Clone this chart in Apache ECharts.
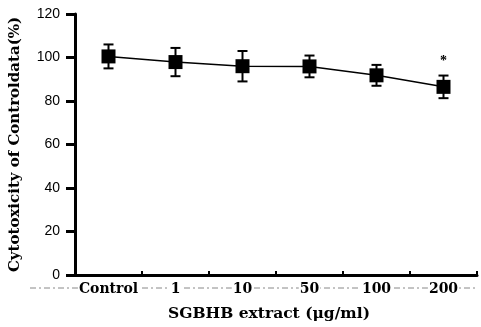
<!DOCTYPE html>
<html><head><meta charset="utf-8">
<script src="https://cdn.jsdelivr.net/npm/echarts@6/dist/echarts.min.js"></script>
<style>html,body{margin:0;padding:0;background:#fff}#c{width:481px;height:327px}</style>
</head><body><div id="c"></div>
<script>
const categories = ['Control', '1', '10', '50', '100', '200'];
const meanValues = [100.5, 97.9, 96.0, 95.9, 91.8, 86.5];
const errorValues = [5.5, 6.5, 7.0, 5.0, 4.8, 5.2];
const annotations = ['', '', '', '', '', '*'];
const yTicks = [0, 20, 40, 60, 80, 100, 120];

const chart = echarts.init(document.getElementById('c'));
const errData = categories.map((c, i) => [i, meanValues[i] - errorValues[i], meanValues[i] + errorValues[i], annotations[i]]);
chart.setOption({
  animation: false,
  grid: {left: 73, right: 4, top: 14, bottom: 51},
  graphic: [{
    type: 'line', z: -1, shape: {x1: 30, y1: 288, x2: 477, y2: 288},
    style: {stroke: '#888', lineWidth: 1, lineDash: [6, 3, 2, 3]}
  }],
  xAxis: {
    type: 'category', data: categories, boundaryGap: true,
    name: 'SGBHB extract (μg/ml)', nameLocation: 'middle', nameGap: 31,
    nameTextStyle: {fontFamily: 'DejaVu Serif', fontWeight: 'bold', fontSize: 15.5, color: '#000', padding: [0, 14, 0, 0]},
    axisLine: {lineStyle: {color: '#000', width: 3}},
    axisTick: {show: true, inside: true, length: 4, interval: 0, lineStyle: {color: '#000', width: 2}},
    axisLabel: {fontFamily: 'DejaVu Serif', fontWeight: 'bold', fontSize: 14, color: '#000', margin: 7, interval: 0,
      backgroundColor: '#fff', padding: [0, 1]}
  },
  yAxis: {
    type: 'value', min: yTicks[0], max: yTicks[yTicks.length - 1], interval: 20,
    name: 'Cytotoxicity of Controldata(%)', nameLocation: 'middle', nameGap: 52,
    nameTextStyle: {fontFamily: 'DejaVu Serif', fontWeight: 'bold', fontSize: 15, color: '#000'},
    axisLine: {show: true, lineStyle: {color: '#000', width: 3}},
    axisTick: {show: true, length: 9, lineStyle: {color: '#000', width: 3}},
    splitLine: {show: false},
    axisLabel: {fontFamily: 'Liberation Sans', fontSize: 14, color: '#000', margin: 15}
  },
  series: [
    {
      type: 'line', data: meanValues, symbol: 'rect', symbolSize: 14,
      itemStyle: {color: '#000'}, lineStyle: {color: '#000', width: 1.5}, z: 3
    },
    {
      type: 'custom', data: errData, z: 2,
      renderItem: function (params, api) {
        const x = api.coord([api.value(0), api.value(1)])[0];
        const lo = api.coord([api.value(0), api.value(1)])[1];
        const hi = api.coord([api.value(0), api.value(2)])[1];
        const hw = 5;
        const st = {stroke: '#000', lineWidth: 2};
        const children = [
          {type: 'line', shape: {x1: x, y1: lo, x2: x, y2: hi}, style: st},
          {type: 'line', shape: {x1: x - hw, y1: lo, x2: x + hw, y2: lo}, style: st},
          {type: 'line', shape: {x1: x - hw, y1: hi, x2: x + hw, y2: hi}, style: st}
        ];
        const ann = errData[params.dataIndex][3];
        if (ann) {
          children.push({type: 'text', style: {text: ann, x: x, y: hi - 14, textAlign: 'center', textVerticalAlign: 'middle', font: 'bold 14px Liberation Serif', fill: '#000'}});
        }
        return {type: 'group', children: children};
      }
    }
  ]
});
</script></body></html>
